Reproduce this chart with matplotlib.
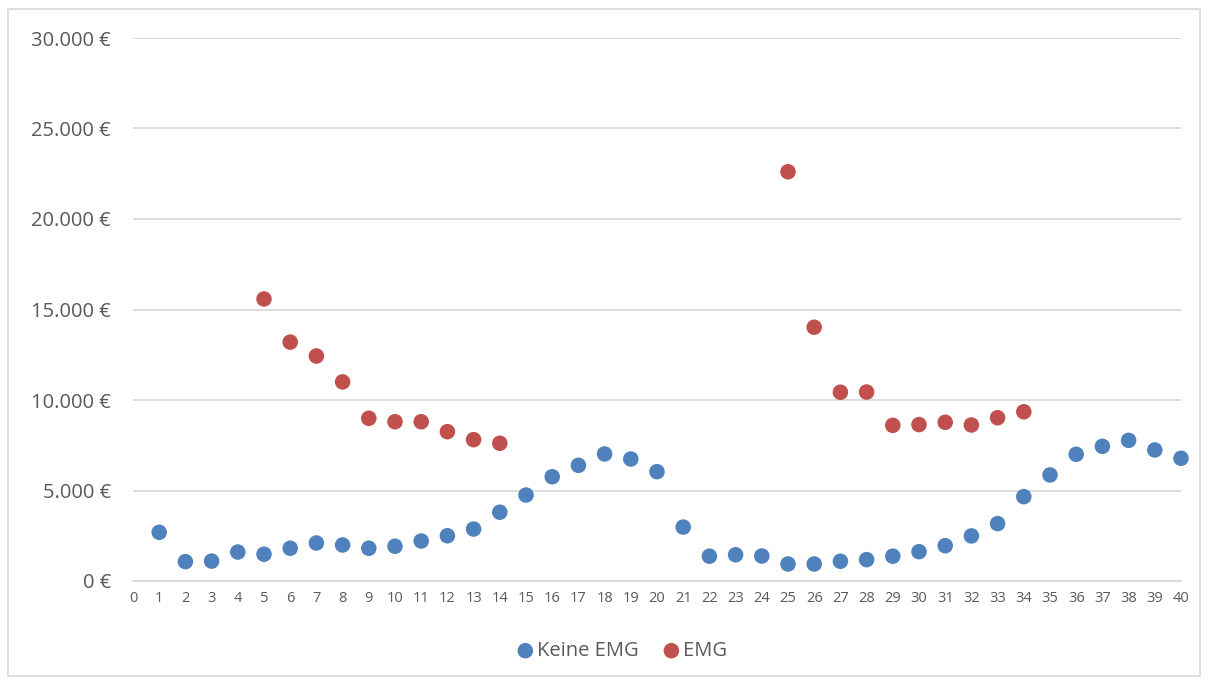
import numpy as np
import matplotlib.pyplot as plt
from matplotlib.patches import Rectangle
from matplotlib.ticker import FuncFormatter

plt.rcParams['font.family'] = ['Open Sans', 'DejaVu Sans']

# Beobachtungen 1..40
nr_keine = list(range(1, 41))
keine_emg = [2690, 1070, 1100, 1600, 1480, 1810, 2100, 1990, 1810, 1920,
             2210, 2500, 2870, 3800, 4750, 5760, 6390, 7020, 6740, 6040,
             2980, 1370, 1450, 1380, 940, 940, 1090, 1180, 1370, 1620,
             1950, 2490, 3170, 4660, 5860, 7000, 7440, 7770, 7240, 6780]

nr_emg = [5, 6, 7, 8, 9, 10, 11, 12, 13, 14,
          25, 26, 27, 28, 29, 30, 31, 32, 33, 34]
emg = [15580, 13200, 12430, 11000, 8990, 8800, 8800, 8250, 7810, 7610,
       22610, 14020, 10430, 10440, 8600, 8640, 8770, 8620, 9020, 9350]

blau = '#4F81BD'
rot = '#C0504D'
grau = '#595959'

fig = plt.figure(figsize=(12.08, 6.84), dpi=100)
ax = fig.add_axes([133/1208, 1-581/684, 1048/1208, 543/684])

ax.scatter(nr_keine, keine_emg, s=125, color=blau, edgecolors='none',
           label='Keine EMG', zorder=3, clip_on=False)
ax.scatter(nr_emg, emg, s=125, color=rot, edgecolors='none',
           label='EMG', zorder=3, clip_on=False)

ax.set_xlim(0, 40)
ax.set_ylim(0, 30000)
ax.set_xticks(range(0, 41))
ax.set_yticks(range(0, 30001, 5000))

def euro(v, pos):
    return f'{int(v):,} €'.replace(',', '.')

ax.yaxis.set_major_formatter(FuncFormatter(euro))
ax.tick_params(axis='y', length=0, pad=16, labelsize=14.5, labelcolor=grau)
ax.tick_params(axis='x', length=0, pad=7, labelsize=10.5, labelcolor=grau)
ax.grid(axis='y', color='#D9D9D9', linewidth=1.3)
ax.set_axisbelow(True)
for s in ['left', 'right', 'top']:
    ax.spines[s].set_visible(False)
ax.spines['bottom'].set_color('#D9D9D9')
ax.spines['bottom'].set_linewidth(1.3)

leg = ax.legend(loc='center', bbox_to_anchor=(0.467, (684-651-(684-581))/543),
                ncol=2, frameon=False, fontsize=14.5, handlelength=0.8,
                handletextpad=0.2, columnspacing=1.2, markerscale=1.0)
for t in leg.get_texts():
    t.set_color(grau)

fig.patches.append(Rectangle((8/1208, 8/684), 1192/1208, 667/684,
                             transform=fig.transFigure, fill=False,
                             edgecolor='#D9D9D9', linewidth=1.2))

fig.savefig('out.png', dpi=100)
